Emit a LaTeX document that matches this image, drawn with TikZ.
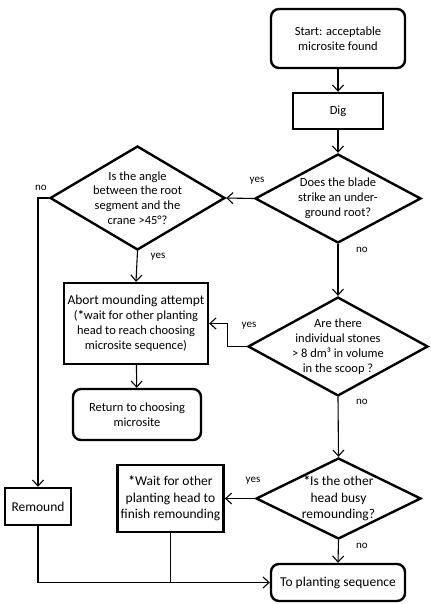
\documentclass[tikz,border=0pt]{standalone}
\usepackage{fontspec}
\setmainfont{Carlito}
\usepackage{tikz}
\usetikzlibrary{arrows.meta,positioning,calc,shapes.geometric}

\begin{document}
\begin{tikzpicture}[x=1bp,y=-1bp,>={Straight Barb[length=6bp,width=11bp]},
  box/.style={draw,line width=2.4bp,minimum width=#1,align=center,font=\fontsize{12.5bp}{14.8bp}\selectfont},
  rbox/.style={box=#1,rounded corners=8bp},
  dec/.style={diamond,draw,line width=2.4bp,inner sep=-12bp,align=center,font=\fontsize{12.5bp}{14.8bp}\selectfont},
  ar/.style={->,line width=1.1bp},ln/.style={line width=1.1bp},
  lab/.style={font=\fontsize{11bp}{13bp}\selectfont}]
\useasboundingbox (0,0) rectangle (430,604);
\node[rbox=134bp,minimum height=59bp] (start) at (338,38.5) {Start: acceptable\\microsite found};
\node[box=90bp,minimum height=36bp] (dig) at (338,111) {Dig};
\node[dec,minimum width=166bp,minimum height=89bp] (blade) at (338,198.5) {Does the blade\\strike an under-\\ground root?};
\node[dec,minimum width=175bp,minimum height=104bp] (angle) at (137.5,198) {Is the angle\\between the root\\segment and the\\crane >45°?};
\node[box=144bp,minimum height=81bp] (abort) at (136,323.5) {{\fontsize{13.5bp}{16bp}\selectfont Abort mounding attempt}\\(\textbf{*}wait for other planting\\head to reach choosing\\microsite sequence)};
\node[rbox=128bp,minimum height=51bp] (return) at (137,414.5) {Return to choosing\\microsite};
\node[dec,minimum width=180bp,minimum height=95bp] (stones) at (338,346.5) {Are there\\individual stones\\> 8 dm³ in volume\\in the scoop ?};
\node[dec,minimum width=165bp,minimum height=81bp,font=\fontsize{13.5bp}{16.5bp}\selectfont] (busy) at (338.5,498.5) {\textbf{*}Is the other\\head busy\\remounding?};
\node[box=105bp,minimum height=67bp,font=\fontsize{13.5bp}{16.5bp}\selectfont] (wait) at (170.5,498.5) {\textbf{*}Wait for other\\planting head to\\finish remounding};
\node[box=66bp,minimum height=37bp,font=\fontsize{13.5bp}{16.5bp}\selectfont] (remound) at (38,506.5) {Remound};
\node[rbox=134bp,minimum height=37bp,font=\fontsize{13.5bp}{16.5bp}\selectfont] (plant) at (338,582.5) {To planting sequence};
% connectors
\draw[ar] (start) -- (dig);
\draw[ar] (dig) -- (blade);
\draw[ar] (blade.west) -- (angle.east);
\draw[ar] (angle.west) -| (remound.north);
\draw[ar] (angle.south) -- (abort.north);
\draw[ar] (abort) -- (return);
\draw[ar] (blade.south) -- (stones.north);
\draw[ar] (stones.west) -- ++(-19,0) |- (abort.east);
\draw[ar] (stones.south) -- (busy.north);
\draw[ar] (busy.west) -- (wait.east);
\draw[ar] (busy.south) -- (plant.north);
\draw[ar] (remound.south) |- (plant.west);
\draw[ln] (wait.south) -- (wait.south |- plant.west);
% labels
\node[lab] (l1) at (257,181) {yes};
\node[lab] (l2) at (41,188) {no};
\node[lab] (l3) at (158,257) {yes};
\node[lab] (l4) at (362,250) {no};
\node[lab] (l5) at (249,326) {yes};
\node[lab] (l6) at (362,402) {no};
\node[lab] (l7) at (253,481) {yes};
\node[lab] (l8) at (362,546) {no};
\end{tikzpicture}
\end{document}
